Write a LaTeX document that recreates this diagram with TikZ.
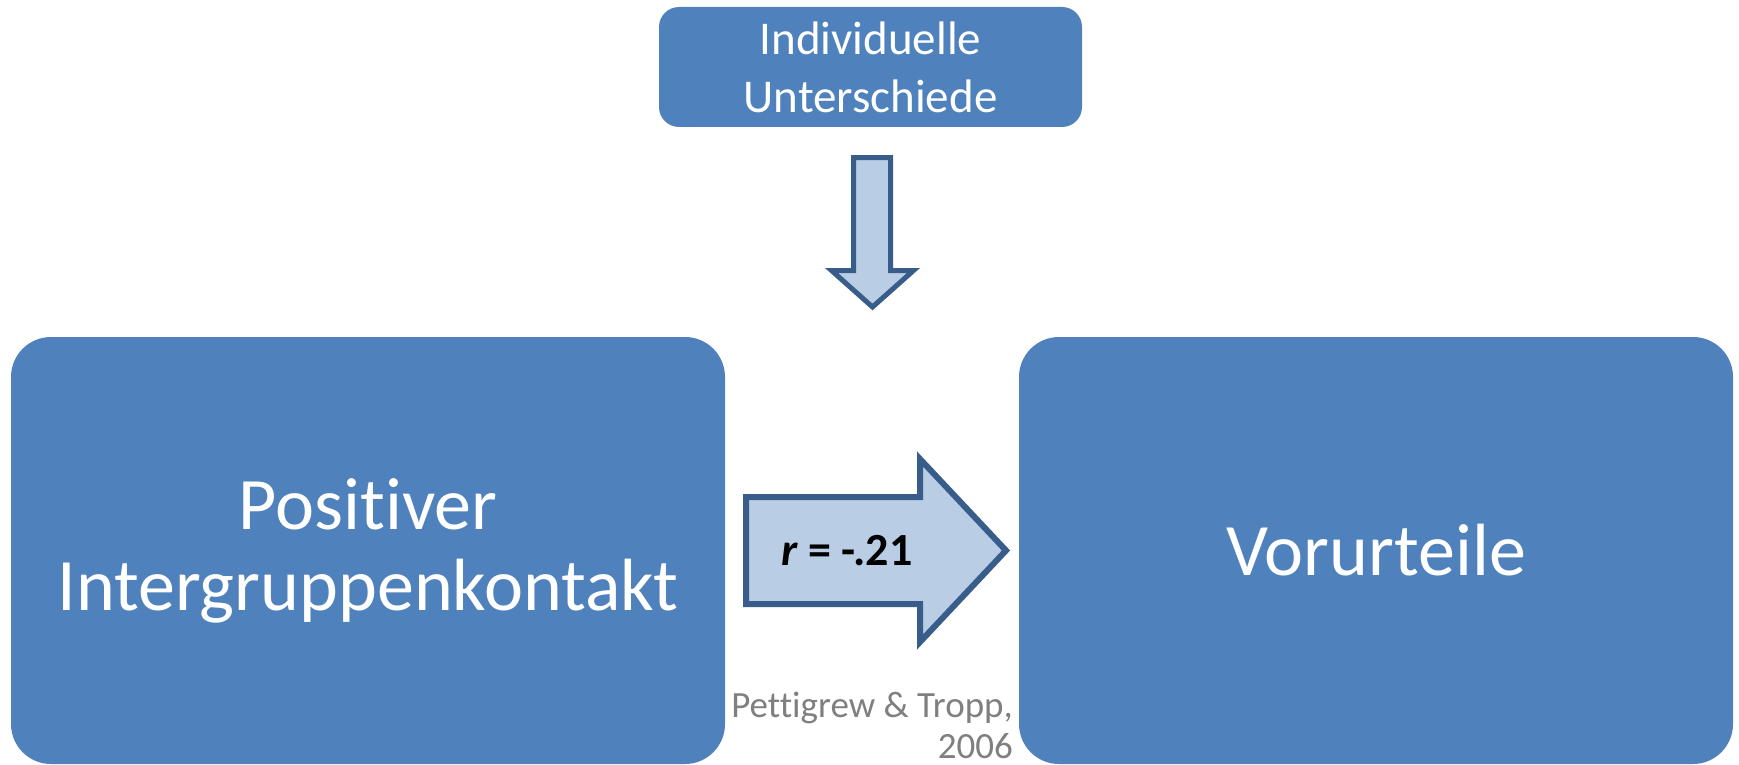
\documentclass[tikz,border=0pt]{standalone}
\usepackage{fontspec}
\setmainfont{Carlito}[Ligatures=CommonOff]

\definecolor{boxblue}{HTML}{4F81BD}
\definecolor{arrowfill}{HTML}{B9CDE5}
\definecolor{arrowline}{HTML}{385D8A}
\definecolor{citegray}{HTML}{7F7F7F}

\begin{document}
\begin{tikzpicture}[x=1pt,y=-1pt]
		\tikzstyle {blue box} = [fill=boxblue, text=white, inner sep=0pt, align=center]
		\tikzstyle {block arrow} = [fill=arrowfill, draw=arrowline, line join=miter]

		\useasboundingbox (0,0) rectangle (1739,765);

		\node[blue box, rounded corners=20pt, minimum width=423pt, minimum height=120pt,
			font=\fontsize{47}{58}\selectfont] (unterschiede) at (870.5,67) {Individuelle\\Unterschiede};
		\node[blue box, rounded corners=40pt, minimum width=714pt, minimum height=427pt,
			font=\fontsize{74}{81}\selectfont] (kontakt) at (368,550.5) {Positiver\\Intergruppenkontakt};
		\node[blue box, rounded corners=40pt, minimum width=714pt, minimum height=427pt,
			font=\fontsize{74}{81}\selectfont] (vorurteile) at (1376,550.5) {Vorurteile};

		\draw[block arrow, line width=5pt] (853.5,157.5) -- (890.5,157.5) -- (890.5,270.5) -- (913.5,270.5)
			-- (872.5,307) -- (831.5,270.5) -- (853.5,270.5) -- cycle;
		\draw[block arrow, line width=6pt] (746,497) -- (920,497) -- (920,459) -- (1006,550.5)
			-- (920,642) -- (920,604) -- (746,604) -- cycle;

		\node[font=\fontsize{46}{54}\selectfont\bfseries] (korrelation) at (847,551) {\textit{r} = -.21};
		\node[anchor=north east, align=right, inner sep=0pt, text=citegray,
			font=\fontsize{37}{41}\selectfont] (quelle) at (1013,692) {Pettigrew \& Tropp,\\2006};
	\end{tikzpicture}
\end{document}
